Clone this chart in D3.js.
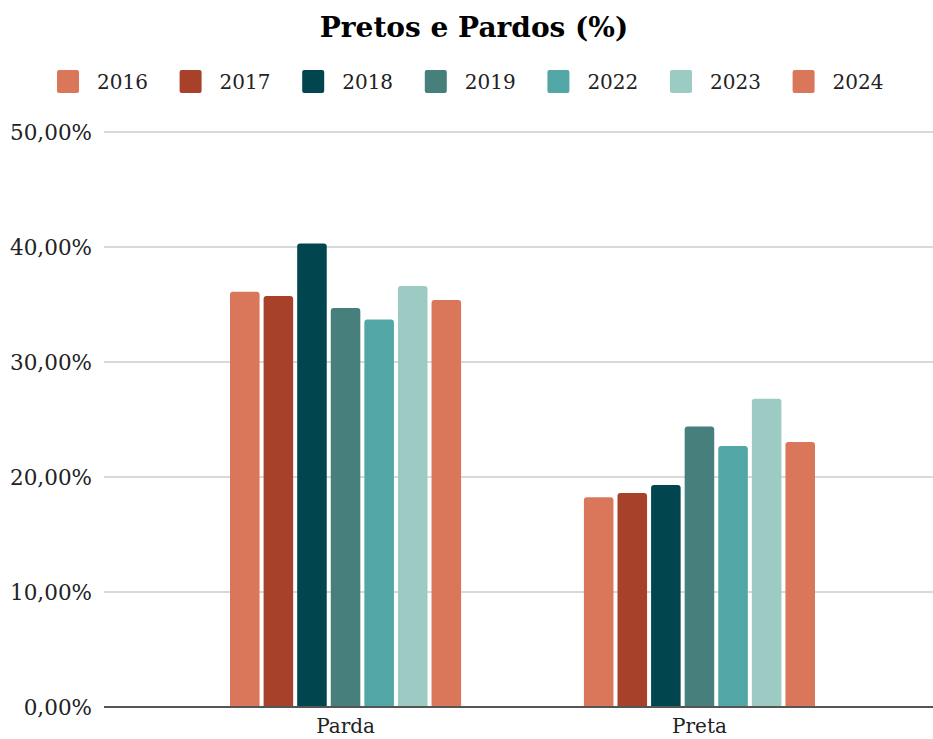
<!DOCTYPE html>
<html>
<head>
<meta charset="utf-8">
<script src="https://cdn.jsdelivr.net/npm/d3@7"></script>
<style>
  body { margin: 0; background: #fff; }
  svg { display: block; font-family: "DejaVu Serif", "Liberation Serif", serif; }
</style>
</head>
<body>
<div id="chart"></div>
<script>
// data
var categories = ["Parda", "Preta"];
var years = ["2016", "2017", "2018", "2019", "2022", "2023", "2024"];
var parda = [36.1, 35.75, 40.3, 34.7, 33.7, 36.6, 35.4];
var preta = [18.25, 18.6, 19.3, 24.4, 22.7, 26.8, 23.05];
var yTicks = [0, 10, 20, 30, 40, 50];
var colors = ["#da775b", "#a8412a", "#01464f", "#467f7c", "#52a7a6", "#9ccbc4", "#da775b"];

var series = { "Parda": parda, "Preta": preta };

var width = 933, height = 739;

var svg = d3.select("#chart").append("svg")
    .attr("width", width)
    .attr("height", height);

var y = d3.scaleLinear()
    .domain([0, 50])
    .range([707, 132]);

var x0 = d3.scaleBand()
    .domain(categories)
    .range([168.6, 876.4])
    .paddingInner(0.347)
    .paddingOuter(0.1735);

var x1 = d3.scaleBand()
    .domain(years)
    .range([0, x0.bandwidth()])
    .paddingInner(0.12)
    .paddingOuter(0);

var color = d3.scaleOrdinal().domain(years).range(colors);

// title
svg.append("text")
    .attr("x", 474)
    .attr("y", 37)
    .attr("text-anchor", "middle")
    .attr("font-size", 28)
    .attr("font-weight", "bold")
    .attr("fill", "#000")
    .text("Pretos e Pardos (%)");

// legend
var legend = svg.append("g");
var item = legend.selectAll("g")
    .data(years)
    .enter().append("g")
    .attr("transform", function(d, i) { return "translate(" + (57 + i * 122.6) + ",70)"; });
item.append("rect")
    .attr("width", 22)
    .attr("height", 23)
    .attr("rx", 2)
    .attr("fill", function(d, i) { return colors[i]; });
item.append("text")
    .attr("x", 40)
    .attr("y", 19)
    .attr("font-size", 20)
    .attr("fill", "#222")
    .text(function(d) { return d; });

// grid + y labels
var grid = svg.append("g");
grid.selectAll("line")
    .data(yTicks.filter(function(d) { return d > 0; }))
    .enter().append("line")
    .attr("x1", 104)
    .attr("x2", width)
    .attr("y1", function(d) { return y(d); })
    .attr("y2", function(d) { return y(d); })
    .attr("stroke", "#cccccc")
    .attr("stroke-width", 1.5);

grid.selectAll("text")
    .data(yTicks)
    .enter().append("text")
    .attr("x", 92)
    .attr("y", function(d) { return y(d); })
    .attr("dy", "0.35em")
    .attr("text-anchor", "end")
    .attr("font-size", 21.5)
    .attr("fill", "#222")
    .text(function(d) { return d3.format(".2f")(d).replace(".", ",") + "%"; });

// bars with rounded tops
function barPath(x, yTop, w, yBase, r) {
    r = Math.min(r, (yBase - yTop) / 2, w / 2);
    return "M" + x + "," + yBase +
        "V" + (yTop + r) +
        "Q" + x + "," + yTop + " " + (x + r) + "," + yTop +
        "H" + (x + w - r) +
        "Q" + (x + w) + "," + yTop + " " + (x + w) + "," + (yTop + r) +
        "V" + yBase + "Z";
}

var groups = svg.append("g").selectAll("g")
    .data(categories)
    .enter().append("g")
    .attr("transform", function(d) { return "translate(" + x0(d) + ",0)"; });

groups.selectAll("path")
    .data(function(c) {
        return years.map(function(yr, i) { return { year: yr, value: series[c][i] }; });
    })
    .enter().append("path")
    .attr("d", function(d) {
        return barPath(x1(d.year), y(d.value), x1.bandwidth(), y(0), 3);
    })
    .attr("fill", function(d) { return color(d.year); });

// baseline
svg.append("line")
    .attr("x1", 104)
    .attr("x2", width)
    .attr("y1", y(0))
    .attr("y2", y(0))
    .attr("stroke", "#555")
    .attr("stroke-width", 2);

// category labels
svg.append("g").selectAll("text")
    .data(categories)
    .enter().append("text")
    .attr("x", function(d) { return x0(d) + x0.bandwidth() / 2; })
    .attr("y", 733)
    .attr("text-anchor", "middle")
    .attr("font-size", 20)
    .attr("fill", "#222")
    .text(function(d) { return d; });
</script>
</body>
</html>
